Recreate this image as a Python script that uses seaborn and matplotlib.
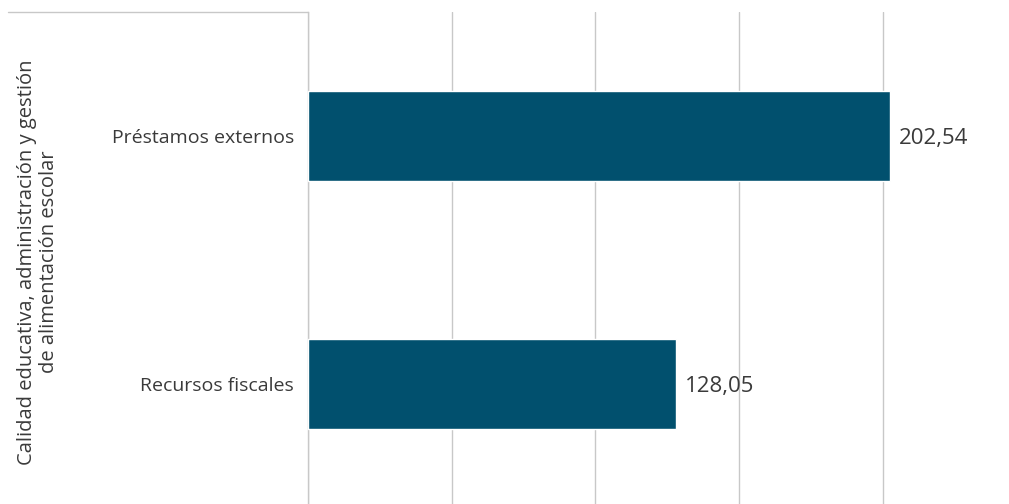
import matplotlib
matplotlib.use("Agg")
import matplotlib.pyplot as plt
from matplotlib.lines import Line2D
import seaborn as sns
import pandas as pd

# Data
categories = ["Préstamos externos", "Recursos fiscales"]
values = [202.54, 128.05]
group_label = "Calidad educativa, administración y gestión\nde alimentación escolar"
value_labels = ["202,54", "128,05"]

df = pd.DataFrame({"fuente": categories, "monto": values})

sns.set_theme(style="white")
plt.rcParams["font.family"] = ["Open Sans", "DejaVu Sans"]

text_color = "#3A3A3A"
bar_color = "#01506E"
grid_color = "#C8C8C8"

fig = plt.figure(figsize=(10.09, 5.04), dpi=100)
# axes spans from x=308px to the right edge, y from 12px down slightly past the bottom
ax = fig.add_axes([308 / 1009, -4 / 504, 1 - 308 / 1009, (504 - 12 + 4) / 504])

sns.barplot(data=df, x="monto", y="fuente", orient="h", color=bar_color,
            width=0.36, saturation=1, ax=ax, zorder=3)

ax.set_xlim(0, 244)
ax.set_ylim(1.5, -0.5)
ax.set_xticks([0, 50, 100, 150, 200])
ax.set_xticklabels([])
ax.xaxis.grid(True, color=grid_color, linewidth=1)
ax.yaxis.grid(False)
ax.tick_params(axis="both", length=0)
ax.tick_params(axis="y", labelsize=14, labelcolor=text_color, pad=10)
ax.set_xlabel("")
ax.set_ylabel("")
for side in ["top", "right", "bottom"]:
    ax.spines[side].set_visible(False)
ax.spines["left"].set_color(grid_color)
ax.spines["left"].set_linewidth(1)

for patch, lab in zip(ax.patches, value_labels):
    w = patch.get_width()
    yc = patch.get_y() + patch.get_height() / 2
    ax.text(w + 3, yc, lab, va="center_baseline", ha="left", fontsize=16,
            color=text_color, zorder=4)

# group label of the category axis
fig.text(38 / 1009, 1 - 262 / 504, group_label, rotation=90, ha="center",
         va="center", fontsize=14.5, color=text_color, multialignment="center",
         linespacing=1.1)
# top border of the category group box
fig.add_artist(Line2D([8 / 1009, 308 / 1009], [1 - 12 / 504, 1 - 12 / 504],
                      transform=fig.transFigure, color=grid_color, linewidth=1))

fig.savefig("out.png", dpi=100, facecolor="white")
